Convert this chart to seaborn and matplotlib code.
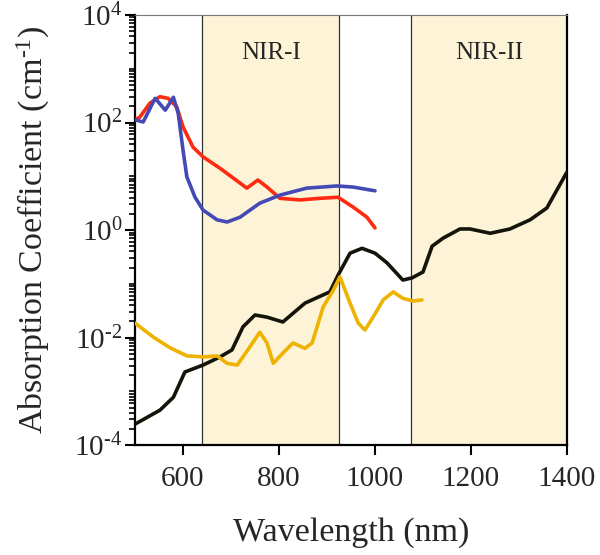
import numpy as np
import pandas as pd
import matplotlib
matplotlib.use("Agg")
import matplotlib.pyplot as plt
import matplotlib.ticker as mticker
import seaborn as sns

# absorption spectra (wavelength nm, log10 of coefficient)
red_x = [500, 510, 531, 552, 569, 587, 600, 621, 642, 677, 733, 756, 775, 802, 844, 885, 923, 954, 983, 1000]
red_y = [2.05, 2.10, 2.36, 2.48, 2.45, 2.29, 1.92, 1.54, 1.36, 1.15, 0.78, 0.93, 0.80, 0.59, 0.56, 0.59, 0.61, 0.43, 0.24, 0.04]

blue_x = [500, 517, 542, 563, 580, 590, 600, 608, 625, 642, 671, 692, 719, 760, 802, 858, 921, 954, 1000]
blue_y = [2.05, 2.01, 2.45, 2.23, 2.47, 2.17, 1.49, 0.99, 0.61, 0.37, 0.19, 0.15, 0.24, 0.50, 0.65, 0.78, 0.82, 0.80, 0.73]

black_x = [500, 552, 580, 604, 642, 677, 702, 725, 750, 775, 808, 829, 854, 881, 906, 923, 948, 973,
           1000, 1025, 1058, 1077, 1100, 1119, 1142, 1177, 1198, 1240, 1281, 1323, 1358, 1400]
black_y = [-3.61, -3.35, -3.11, -2.64, -2.51, -2.36, -2.23, -1.80, -1.58, -1.62, -1.71, -1.55, -1.36, -1.25, -1.15, -0.84, -0.43, -0.34,
           -0.43, -0.61, -0.93, -0.89, -0.78, -0.30, -0.15, 0.02, 0.02, -0.06, 0.02, 0.19, 0.41, 1.08]

yellow_x = [500, 538, 573, 608, 642, 671, 692, 713, 735, 760, 775, 788, 808, 829, 854, 869, 892, 913, 927,
            948, 965, 979, 996, 1017, 1038, 1058, 1079, 1098]
yellow_y = [-1.73, -1.99, -2.19, -2.34, -2.36, -2.34, -2.48, -2.51, -2.23, -1.90, -2.10, -2.48, -2.29, -2.10, -2.20, -2.10, -1.43, -1.12, -0.87,
            -1.36, -1.73, -1.86, -1.62, -1.30, -1.15, -1.27, -1.32, -1.30]

windows = [(640, 925, "NIR-I"), (1076, 1400, "NIR-II")]

sns.set_style("ticks")
plt.rcParams["font.family"] = ["Liberation Serif", "DejaVu Serif"]
plt.rcParams["mathtext.fontset"] = "custom"
plt.rcParams["mathtext.rm"] = "Liberation Serif"
plt.rcParams["mathtext.it"] = "Liberation Serif:italic"

fig = plt.figure(figsize=(6, 5.55), dpi=100)
ax = fig.add_axes([0.225, 0.198, 0.72, 0.775])

for lo, hi, name in windows:
    ax.axvspan(lo, hi, color="#fdf3d7", zorder=0, lw=0)
    ax.axvline(lo, color="#333333", lw=0.9, zorder=1)
    ax.axvline(hi, color="#333333", lw=0.9, zorder=1)
    ax.text((lo + hi) / 2, 10 ** 3.3, name, ha="center", va="center", fontsize=18)

series = [
    (black_x, black_y, "#15140a"),
    (yellow_x, yellow_y, "#eeb300"),
    (red_x, red_y, "#ff2a12"),
    (blue_x, blue_y, "#4349b5"),
]
for xs, ys, c in series:
    d = pd.DataFrame({"wl": xs, "a": 10 ** np.array(ys)})
    sns.lineplot(data=d, x="wl", y="a", color=c, lw=2.6, ax=ax, zorder=3)

ax.set_yscale("log")
ax.set_xlim(500, 1400)
ax.set_ylim(1e-4, 1e4)
ax.set_xticks([600, 800, 1000, 1200, 1400])
ax.yaxis.set_major_locator(mticker.FixedLocator([1e-4, 1e-2, 1e0, 1e2, 1e4]))
ax.yaxis.set_major_formatter(mticker.FuncFormatter(lambda v, p: r"$10^{\text{%d}}$" % round(np.log10(v))))
ax.yaxis.set_minor_locator(mticker.LogLocator(base=10, subs=np.arange(1, 10), numticks=50))
ax.yaxis.set_minor_formatter(mticker.NullFormatter())

ax.tick_params(axis="both", which="major", labelsize=21, length=7, width=1.5, direction="out", color="black")
ax.tick_params(axis="x", which="major", pad=8)
ax.tick_params(axis="y", which="major", pad=2)
ax.tick_params(axis="y", which="minor", length=4, width=1.2, color="black")
for s in ax.spines.values():
    s.set_color("black")
ax.spines["left"].set_linewidth(1.6)
ax.spines["bottom"].set_linewidth(1.6)
ax.spines["right"].set_linewidth(1.6)
ax.spines["top"].set_linewidth(0.8)
ax.spines["top"].set_color("#777777")

ax.set_xlabel("Wavelength (nm)", fontsize=24.5, labelpad=18)
ax.set_ylabel(r"Absorption Coefficient (cm$^{\text{-1}}$)", fontsize=24.5, labelpad=16)

fig.savefig("out.png", dpi=100)
